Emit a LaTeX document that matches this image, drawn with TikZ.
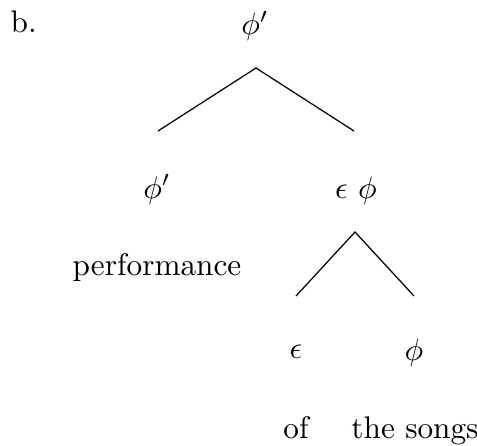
\documentclass[tikz,border=0pt]{standalone}
\usepackage{tikz}
\usetikzlibrary{positioning, calc}
\tikzset{
  cat/.style={anchor=base, inner sep=1pt, font=\normalsize},
  word/.style={anchor=base, inner sep=1pt, font=\normalsize},
  branch/.style={line width=0.4pt, color=black}
}

\begin{document}
\begin{tikzpicture}[x=0.32pt, y=-0.32pt]
  \useasboundingbox (0,0) rectangle (477,445);
  % example label
  \node[word, anchor=base west] (lbl) at (7,33) {b.};
  % root and first split
  \node[cat] (root) at (255,35) {$\phi'$};
  \coordinate (apexA) at (256,68);
  \coordinate (endAl) at (158,131);
  \coordinate (endAr) at (354,131);
  \draw[branch] (endAl) -- (apexA) -- (endAr);
  \node[cat] (nleft) at (157,198) {$\phi'$};
  \node[cat] (nright) at (356,198) {$\epsilon\ \phi$};
  \node[word] (perf) at (157,275) {performance};
  % second split
  \coordinate (apexB) at (355,232);
  \coordinate (endBl) at (296,296);
  \coordinate (endBr) at (414,296);
  \draw[branch] (endBl) -- (apexB) -- (endBr);
  \node[cat] (eps) at (296,358) {$\epsilon$};
  \node[cat] (phi) at (414,360) {$\phi$};
  \node[word] (of) at (296,438) {of};
  \node[word] (songs) at (415,438) {the songs};
\end{tikzpicture}
\end{document}
